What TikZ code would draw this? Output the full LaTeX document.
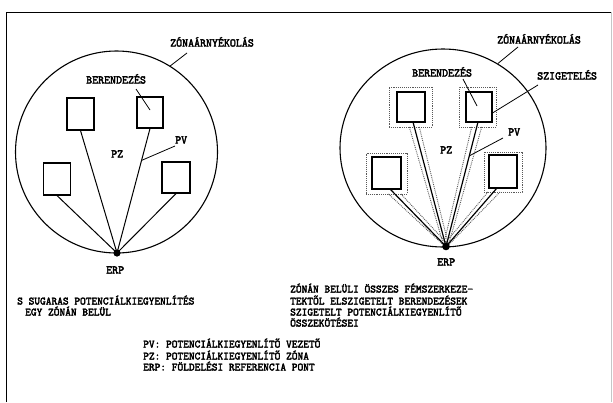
\documentclass[tikz,border=0pt]{standalone}
\usepackage{fontspec}
\newfontfamily\twfont[FakeBold=3]{Latin Modern Mono}
\usetikzlibrary{calc,shapes.geometric}
\begin{document}
\begin{tikzpicture}[x=1pt,y=-1pt,
  lbl/.style={font=\twfont\fontsize{11.6}{13}\selectfont, inner sep=0pt, anchor=base west},
  txt/.style={font=\twfont\fontsize{11.1}{13}\selectfont, inner sep=0pt, anchor=base west},
  dev/.style 2 args={draw, line width=1.1pt, inner sep=0pt, minimum width=#1, minimum height=#2},
  sleeve/.style 2 args={draw=black!65, densely dotted, line width=0.9pt, inner sep=0pt, minimum width=#1, minimum height=#2},
  zone/.style={draw, line width=1.1pt, inner sep=0pt},
  cond/.style={line width=1pt},
  sleeveline/.style={draw=black!65, densely dotted, line width=0.9pt},
  leader/.style={line width=0.8pt},
  dot/.style={fill=black}]
\useasboundingbox (0,0) rectangle (613,402);
% frame
\draw[line width=0.9pt] (6,402) -- (6,12) -- (611,12);
\draw[gray!45, line width=0.5pt] (611,12) -- (611,402);

% ---------------- left diagram ----------------
\node[zone, circle, minimum size=202pt] (cL) at (116.5,152) {};
\coordinate (erpL) at (117,253);
\node[dev={27pt}{32pt}] (L1) at (80.5,114) {};
\node[dev={26pt}{31pt}] (L2) at (150,112.5) {};
\node[dev={27pt}{32pt}] (L3) at (57,179) {};
\node[dev={28pt}{31pt}] (L4) at (176,177.5) {};
\draw[cond] (L1.south) -- (erpL);
\draw[cond] (L2.south) -- (erpL);
\draw[cond] (L3.south) -- (erpL);
\draw[cond] (L4.south) -- (erpL);
\fill[dot] (erpL) circle (3.6pt);

\node[lbl] (zL) at (170,46.5) {ZÓNAÁRNYÉKOLÁS};
\node[lbl] (bL) at (86,83.5) {BERENDEZÉS};
\node[lbl] (pzL) at (111,157.5) {PZ};
\node[lbl] (pvL) at (175,143.5) {PV};
\node[lbl] (erpLt) at (106,273.5) {ERP};

\coordinate (zLe) at (187,53);
\draw[leader] (cL.58) -- (zLe);
\coordinate (bLs) at (136,89);
\coordinate (bLe) at (150,110);
\draw[leader] (bLs) -- (bLe);
\coordinate (pvLs) at (175,146);
\draw[leader] (pvLs) -- ($(L2.south)!0.256!(erpL)$);

% ---------------- right diagram ----------------
\node[zone, ellipse, minimum width=206pt, minimum height=198pt] (cR) at (443,148) {};
\coordinate (erpR) at (446,246.5);
\node[sleeve={43pt}{40pt}] (S1) at (410.5,107) {};
\node[sleeve={37pt}{40pt}] (S2) at (477.5,107) {};
\node[sleeve={41pt}{41pt}] (S3) at (386.5,173.5) {};
\node[sleeve={38pt}{40pt}] (S4) at (503,172) {};
\node[dev={28pt}{30pt}] (R1) at (411,107) {};
\node[dev={26pt}{30pt}] (R2) at (479,107) {};
\node[dev={29pt}{32pt}] (R3) at (386.5,173) {};
\node[dev={28pt}{33pt}] (R4) at (503,171.5) {};

\coordinate (e1) at (413,122);
\coordinate (e2) at (478,122);
\coordinate (e3) at (390,189);
\coordinate (e4) at (497,188);
\coordinate (sa) at (443.5,245);
\coordinate (sb) at (448.5,245);
% sleeve lines
\coordinate (s1a) at (409.3,127); \coordinate (s1b) at (419.3,127);
\coordinate (s2a) at (471.7,127); \coordinate (s2b) at (481.7,127);
\coordinate (s3a) at (388.5,194); \coordinate (s3b) at (401,194);
\coordinate (s4a) at (488,192);   \coordinate (s4b) at (500,192);
\draw[sleeveline] (s1a) -- (sa); \draw[sleeveline] (s1b) -- (sb);
\draw[sleeveline] (s2a) -- (sa); \draw[sleeveline] (s2b) -- (sb);
\draw[sleeveline] (s3a) -- (sa); \draw[sleeveline] (s3b) -- (sb);
\draw[sleeveline] (s4a) -- (sa); \draw[sleeveline] (s4b) -- (sb);
% conductors
\draw[cond, line width=1.2pt] (e1) -- (erpR);
\draw[cond, line width=1.2pt] (e2) -- (erpR);
\draw[cond, line width=1.2pt] (e3) -- (erpR);
\draw[cond, line width=1.2pt] (e4) -- (erpR);
\fill[dot] (erpR) circle (3.8pt);

\node[lbl] (zR) at (497,43.5) {ZÓNAÁRNYÉKOLÁS};
\node[lbl] (bR) at (412,76.5) {BERENDEZÉS};
\node[lbl] (sR) at (537,79.5) {SZIGETELÉS};
\node[lbl] (pvR) at (508,135.5) {PV};
\node[lbl] (pzR) at (440,153.5) {PZ};
\node[lbl] (erpRt) at (437,265.5) {ERP};

\coordinate (zRe) at (518,47);
\draw[leader] (cR.57) -- (zRe);
\coordinate (bRs) at (463,79);
\coordinate (bRe) at (477,106);
\draw[leader] (bRs) -- (bRe);
\coordinate (sRs) at (538,85);
\coordinate (sRe) at (492.5,113);
\draw[leader] (sRs) -- (sRe);
\coordinate (pvRs) at (503,138);
\draw[leader] (pvRs) -- ($(e2)!0.272!(erpR)$);

% ---------------- captions ----------------
\node[txt] (capL1) at (17,304.5) {S SUGARAS POTENCIÁLKIEGYENLÍTÉS};
\node[txt] (capL2) at (25,315.5) {EGY ZÓNÁN BELÜL};

\node[txt] (capR1) at (290,292.5) {ZÓNÁN BELÜLI ÖSSZES FÉMSZERKEZE-};
\node[txt] (capR2) at (290,304.5) {TEKTŐL ELSZIGETELT BERENDEZÉSEK};
\node[txt] (capR3) at (290,315.5) {SZIGETELT POTENCIÁLKIEGYENLÍTŐ};
\node[txt] (capR4) at (290,326.5) {ÖSSZEKÖTÉSEI};

\node[txt] (leg1) at (143,347.5) {PV: POTENCIÁLKIEGYENLÍTŐ VEZETŐ};
\node[txt] (leg2) at (143,359.5) {PZ: POTENCIÁLKIEGYENLÍTŐ ZÓNA};
\node[txt] (leg3) at (143,370.5) {ERP: FÖLDELÉSI REFERENCIA PONT};
\end{tikzpicture}
\end{document}
